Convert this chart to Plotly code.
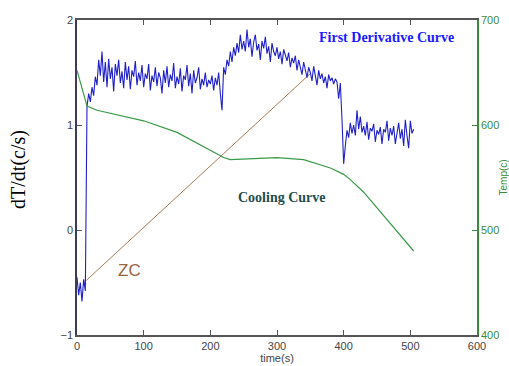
import plotly.graph_objects as go

# ---- data ----
deriv_t_step = 2.5  # sampling step (s) of the derivative curve
deriv_values = [
    -0.45, -0.62, -0.50, -0.68, -0.47, -0.58, 1.18, 1.30, 1.22, 1.36,
    1.28, 1.46, 1.38, 1.62, 1.47, 1.70, 1.41, 1.60, 1.36, 1.63,
    1.44, 1.55, 1.32, 1.58, 1.47, 1.62, 1.40, 1.51, 1.35, 1.60,
    1.43, 1.56, 1.34, 1.52, 1.46, 1.61, 1.38, 1.50, 1.42, 1.57,
    1.36, 1.49, 1.44, 1.58, 1.33, 1.47, 1.41, 1.55, 1.37, 1.50,
    1.45, 1.30, 1.52, 1.40, 1.56, 1.36, 1.48, 1.42, 1.59, 1.35,
    1.46, 1.39, 1.54, 1.32, 1.47, 1.43, 1.57, 1.37, 1.49, 1.30,
    1.52, 1.40, 1.45, 1.55, 1.34, 1.44, 1.38, 1.50, 1.36, 1.43,
    1.39, 1.47, 1.33, 1.45, 1.38, 1.50, 1.30, 1.14, 1.55, 1.48,
    1.62, 1.56, 1.70, 1.60, 1.74, 1.66, 1.78, 1.69, 1.86, 1.72,
    1.80, 1.70, 1.91, 1.74, 1.82, 1.65, 1.79, 1.86, 1.71, 1.77,
    1.62, 1.80, 1.73, 1.84, 1.68, 1.75, 1.60, 1.78, 1.70, 1.66,
    1.74, 1.63, 1.70, 1.58, 1.72, 1.65, 1.61, 1.69, 1.55, 1.64,
    1.59, 1.66, 1.52, 1.62, 1.56, 1.48, 1.60, 1.53, 1.45, 1.55,
    1.50, 1.42, 1.56, 1.47, 1.38, 1.52, 1.44, 1.49, 1.40, 1.46,
    1.35, 1.48, 1.42, 1.45, 1.39, 1.44, 1.41, 1.25, 1.40, 1.05,
    0.63, 0.80, 0.95, 0.88, 1.02, 0.92, 1.00, 0.90, 1.14, 0.96,
    1.08, 0.93, 0.99, 0.90, 1.03, 0.86, 0.97, 0.94, 1.01, 0.84,
    0.95, 0.91, 0.98, 0.82, 0.96, 0.93, 1.04, 0.85, 0.97, 0.90,
    0.99, 0.82, 0.94, 1.02, 0.87, 0.96, 0.80, 1.05, 0.90, 0.78,
    1.04, 0.92, 0.96,
]
deriv_time = [i * deriv_t_step for i in range(len(deriv_values))]

cool_time = [0, 15, 30, 60, 100, 150, 200, 220, 230, 260, 300, 340, 380, 400, 410, 430, 460, 505]
cool_temp = [652, 618, 614, 610, 604, 593, 576, 569, 567, 568, 569, 567, 559, 553, 548, 536, 514, 480]

zc_time = [14, 350]
zc_value = [-0.48, 1.49]

x_ticks = [0, 100, 200, 300, 400, 500, 600]
y_ticks = [-1, 0, 1, 2]
y2_ticks = [400, 500, 600, 700]

GREEN_AX = "#3a8a3a"
AX_GREY = "#555555"

fig = go.Figure()
fig.add_trace(go.Scatter(x=zc_time, y=zc_value, mode="lines",
                         line=dict(color="#a87a52", width=1), showlegend=False))
fig.add_trace(go.Scatter(x=deriv_time, y=deriv_values, mode="lines",
                         line=dict(color="#2020c8", width=1.1), showlegend=False))
fig.add_trace(go.Scatter(x=cool_time, y=cool_temp, mode="lines", yaxis="y2",
                         line=dict(color="#3a9a48", width=1.2), showlegend=False))

tickfont = dict(family="Liberation Sans, Arial, sans-serif", size=11, color="#444444")


def note(text, x, y, font, angle=0):
    return dict(text=text, xref="paper", yref="paper", x=x, y=y,
                xanchor="center", yanchor="middle", textangle=angle,
                showarrow=False, font=font)


fig.update_layout(
    width=509, height=366,
    margin=dict(l=77, r=32, t=20, b=31, autoexpand=False),
    paper_bgcolor="white", plot_bgcolor="white",
    xaxis=dict(range=[0, 600], tickvals=x_ticks, ticks="inside", ticklen=5,
               tickcolor=AX_GREY, showline=True, linecolor=AX_GREY, linewidth=1.5,
               mirror="ticks", showgrid=False, zeroline=False, tickfont=tickfont,
               title=dict(text="time(s)", standoff=3,
                          font=dict(family="Liberation Sans, Arial, sans-serif", size=11, color="#444444"))),
    yaxis=dict(range=[-1, 2], tickvals=y_ticks, ticks="inside", ticklen=5,
               tickcolor=AX_GREY, showline=True, linecolor="#3c3c5a", linewidth=1.5,
               showgrid=False, zeroline=False, tickfont=tickfont),
    yaxis2=dict(range=[400, 700], tickvals=y2_ticks, overlaying="y", side="right",
                ticks="inside", ticklen=5, tickcolor=GREEN_AX, showline=True,
                linecolor=GREEN_AX, linewidth=1.5, showgrid=False, zeroline=False,
                tickfont=dict(family="Liberation Sans, Arial, sans-serif", size=11, color=GREEN_AX)),
    annotations=[
        note("dT/dt(c/s)", -0.145, 0.524,
             dict(family="Liberation Serif, Times New Roman, serif", size=20, color="black"), -90),
        note("Temp(c)", 1.065, 0.5,
             dict(family="Liberation Sans, Arial, sans-serif", size=10, color=GREEN_AX), -90),
        note("<b>First Derivative Curve</b>", 0.7725, 0.943,
             dict(family="Liberation Serif, Times New Roman, serif", size=14, color="#1a1aff")),
        note("<b>Cooling Curve</b>", 0.512, 0.438,
             dict(family="Liberation Serif, Times New Roman, serif", size=14, color="#1e4d4d")),
        note("ZC", 0.13, 0.206,
             dict(family="Liberation Sans, Arial, sans-serif", size=17, color="#946640")),
    ],
)

fig.write_html("out.html")
